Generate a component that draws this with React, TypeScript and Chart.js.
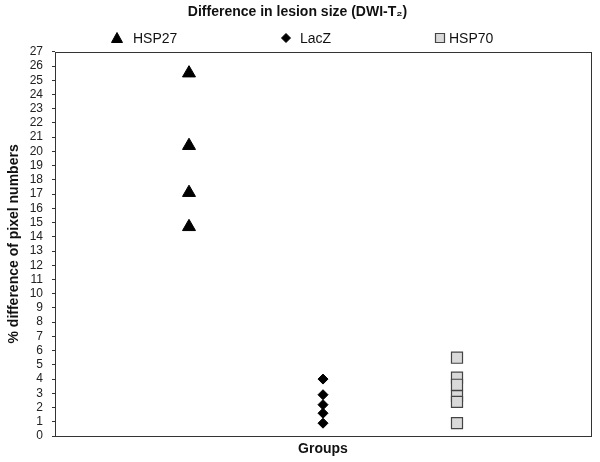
import React, { useEffect, useRef } from "react";
import { Chart, registerables } from "chart.js";

Chart.register(...registerables);

const groups = ["HSP27", "LacZ", "HSP70"];
const groupX = [1, 2, 3];
const hsp27 = [25.5, 20.4, 17.1, 14.7];
const lacz = [4.0, 2.9, 2.2, 1.6, 0.9];
const hsp70 = [5.5, 4.1, 3.6, 2.8, 2.4, 0.9];
const yTicks = Array.from({ length: 28 }, (_, i) => i);

const FONT = "'Liberation Sans', Arial, sans-serif";

const styles = [
  { pointStyle: "triangle", radius: 7.5, bg: "#000", border: "#000", bw: 1, lx: 117, tx: 133 },
  { pointStyle: "rectRot", radius: 5, bg: "#000", border: "#000", bw: 1, lx: 286, tx: 300 },
  { pointStyle: "rect", radius: 7.8, bg: "#d9d9d9", border: "#444", bw: 1.2, lx: 440, tx: 449 },
];

const legendPlugin = {
  id: "customLegend",
  afterDraw(chart: any) {
    const ctx = chart.ctx;
    ctx.save();
    const y = 38;
    groups.forEach((g, i) => {
      const s = styles[i];
      ctx.fillStyle = s.bg;
      ctx.strokeStyle = s.border;
      ctx.lineWidth = s.bw;
      const x = s.lx;
      ctx.beginPath();
      if (s.pointStyle === "triangle") {
        ctx.moveTo(x, y - 5.5);
        ctx.lineTo(x + 5.5, y + 4.5);
        ctx.lineTo(x - 5.5, y + 4.5);
        ctx.closePath();
      } else if (s.pointStyle === "rectRot") {
        ctx.moveTo(x, y - 4.5);
        ctx.lineTo(x + 4.5, y);
        ctx.lineTo(x, y + 4.5);
        ctx.lineTo(x - 4.5, y);
        ctx.closePath();
      } else {
        ctx.rect(x - 4.5, y - 4.5, 9, 9);
      }
      ctx.fill();
      ctx.stroke();
      ctx.fillStyle = "#111";
      ctx.font = `14px ${FONT}`;
      ctx.textBaseline = "middle";
      ctx.textAlign = "left";
      ctx.fillText(g, s.tx, y + 1);
    });
    const a = chart.chartArea;
    ctx.strokeStyle = "#333";
    ctx.lineWidth = 1;
    ctx.strokeRect(Math.round(a.left) + 0.5, Math.round(a.top) + 0.5, Math.round(a.right - a.left), Math.round(a.bottom - a.top));
    ctx.restore();
  },
};

export default function App() {
  const ref = useRef<HTMLCanvasElement>(null);
  useEffect(() => {
    const series = [hsp27, lacz, hsp70];
    const chart = new Chart(ref.current!, {
      type: "scatter",
      data: {
        datasets: series.map((vals, i) => ({
          label: groups[i],
          data: vals.map((v) => ({ x: groupX[i], y: v })),
          pointStyle: styles[i].pointStyle as any,
          pointRadius: styles[i].radius,
          pointHoverRadius: styles[i].radius,
          backgroundColor: styles[i].bg,
          borderColor: styles[i].border,
          borderWidth: styles[i].bw,
        })),
      },
      options: {
        animation: false,
        responsive: false,
        layout: { padding: { right: 5, top: 0, bottom: 0, left: 0 } },
        plugins: {
          legend: { display: false },
          tooltip: { enabled: false },
          title: {
            display: true,
            text: "Difference in lesion size (DWI-T₂)",
            color: "#111",
            font: { family: FONT, size: 14, weight: "bold" },
            padding: { top: 4, bottom: 31 },
          },
        },
        scales: {
          x: {
            type: "linear",
            min: 0,
            max: 4,
            ticks: { display: false },
            grid: { display: false },
            border: { display: false },
            title: {
              display: true,
              text: "Groups",
              color: "#111",
              font: { family: FONT, size: 14, weight: "bold" },
              padding: { top: 4, bottom: 4 },
            },
            afterFit: (s: any) => {
              s.height = 26;
            },
          },
          y: {
            min: 0,
            max: 27,
            afterBuildTicks: (s: any) => {
              s.ticks = yTicks.map((v) => ({ value: v }));
            },
            ticks: {
              color: "#222",
              font: { family: FONT, size: 12 },
              padding: 9,
              autoSkip: false,
            },
            grid: { drawOnChartArea: false, drawTicks: true, tickLength: 3, color: "#333" },
            border: { display: false },
            title: {
              display: true,
              text: "% difference of pixel numbers",
              color: "#111",
              font: { family: FONT, size: 14, weight: "bold" },
              padding: { top: 6, bottom: 4 },
            },
            afterFit: (s: any) => {
              s.width = 55;
            },
          },
        },
      },
      plugins: [legendPlugin],
    });
    return () => chart.destroy();
  }, []);
  return (
    <div style={{ position: "absolute", left: 0, top: 0, width: 600, height: 462, background: "#fff" }}>
      <canvas ref={ref} width={600} height={462} style={{ width: 600, height: 462 }} />
    </div>
  );
}
